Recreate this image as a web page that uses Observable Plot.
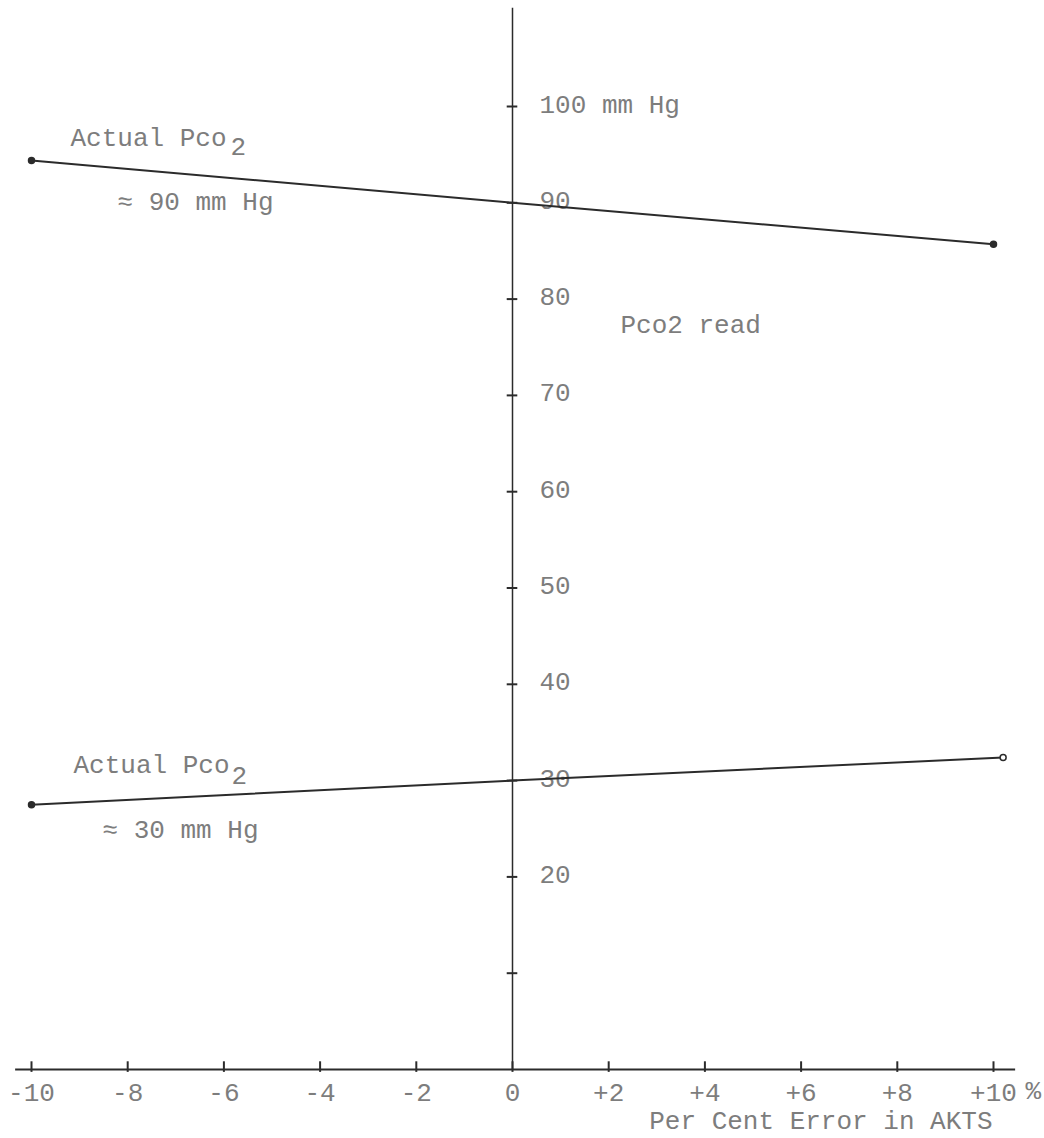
<!DOCTYPE html>
<html>
<head>
<meta charset="utf-8">
<script src="https://cdn.jsdelivr.net/npm/d3@7"></script>
<script src="https://cdn.jsdelivr.net/npm/@observablehq/plot@0.6"></script>
<style>
  html, body { margin: 0; padding: 0; background: #ffffff; }
  #chart svg { display: block; }
</style>
</head>
<body>
<div id="chart"></div>
<script>
// ---- data ----
const xTicks = [-10, -8, -6, -4, -2, 0, 2, 4, 6, 8, 10];
const xTickLabels = ["-10", "-8", "-6", "-4", "-2", "0", "+2", "+4", "+6", "+8", "+10"];
const yTicks = [10, 20, 30, 40, 50, 60, 70, 80, 90, 100];
const yTickLabels = ["", "20", "30", "40", "50", "60", "70", "80", "90", "100 mm Hg"];

const errX90 = [-10, 0, 10];
const read90 = [94.4, 90, 85.7];
const errX30 = [-10, 0, 10.2];
const read30 = [27.5, 30, 32.4];

const seriesNames = ["90", "30"];
const seriesTexts = ["≈ 90 mm Hg", "≈ 30 mm Hg"];

const xAxisLabel = "Per Cent Error in AKTS";
const yAxisLabel = "Pco2 read";
const unitLabel = "%";

// ---- tables built from the arrays ----
const series90 = errX90.map((x, i) => ({series: seriesNames[0], x, y: read90[i]}));
const series30 = errX30.map((x, i) => ({series: seriesNames[1], x, y: read30[i]}));
const allPts = series90.concat(series30);
const solidEnds = [series90[0], series90[2], series30[0]];
const openEnds = [series30[2]];

const textColor = "#7d7d7d";
const inkColor = "#2b2b2b";
const fs = 26;
const font = "Liberation Mono, DejaVu Sans Mono, monospace";

const chart = Plot.plot({
  width: 1044,
  height: 1138,
  marginLeft: 31,
  marginRight: 51,
  marginTop: 106,
  marginBottom: 69,
  x: {domain: [-10, 10], axis: null},
  y: {domain: [0, 100], axis: null},
  style: {fontFamily: font, background: "#ffffff"},
  marks: [
    // axes lines
    Plot.ruleX([0], {y1: 0, y2: 110.2, stroke: inkColor, strokeWidth: 1.5}),
    Plot.ruleY([0], {x1: -10.33, x2: 10.46, stroke: inkColor, strokeWidth: 1.8}),
    // y ticks
    Plot.ruleY(yTicks, {x1: -0.11, x2: 0.11, stroke: inkColor, strokeWidth: 2}),
    Plot.text(yTicks, {x: 0, y: d => d, text: (d, i) => yTickLabels[i], textAnchor: "start", lineAnchor: "bottom", dx: 27, dy: 6, fill: textColor, fontSize: fs, fontFamily: font}),
    // x ticks
    Plot.ruleX(xTicks, {y1: -0.3, y2: 0.8, stroke: inkColor, strokeWidth: 2}),
    Plot.text(xTicks, {x: d => d, y: 0, text: (d, i) => xTickLabels[i], lineAnchor: "bottom", dy: 31, fill: textColor, fontSize: fs, fontFamily: font}),
    Plot.text([unitLabel], {x: 10, y: 0, text: d => d, textAnchor: "start", lineAnchor: "bottom", dx: 32, dy: 29, fill: textColor, fontSize: fs, fontFamily: font}),
    Plot.text([xAxisLabel], {x: 10, y: 0, text: d => d, textAnchor: "end", lineAnchor: "bottom", dx: -1, dy: 59, fill: textColor, fontSize: fs, fontFamily: font}),
    Plot.text([yAxisLabel], {x: 0, y: 80, text: d => d, textAnchor: "start", lineAnchor: "bottom", dx: 108, dy: 34, fill: textColor, fontSize: fs, fontFamily: font}),
    // series lines
    Plot.line(allPts, {x: "x", y: "y", z: "series", stroke: inkColor, strokeWidth: 2}),
    Plot.dot(solidEnds, {x: "x", y: "y", r: 3, fill: inkColor, stroke: inkColor}),
    Plot.dot(openEnds, {x: "x", y: "y", r: 3, fill: "#ffffff", stroke: inkColor, strokeWidth: 1.5}),
    // series labels anchored on the first point of each series
    Plot.text([series90[0]], {x: "x", y: "y", text: () => "Actual Pco", textAnchor: "start", lineAnchor: "bottom", dx: 39, dy: -14, fill: textColor, fontSize: fs, fontFamily: font}),
    Plot.text([series90[0]], {x: "x", y: "y", text: () => "2", textAnchor: "start", lineAnchor: "bottom", dx: 199, dy: -5, fill: textColor, fontSize: fs, fontFamily: font}),
    Plot.text([series90[0]], {x: "x", y: "y", text: () => seriesTexts[0], textAnchor: "start", lineAnchor: "bottom", dx: 86, dy: 50, fill: textColor, fontSize: fs, fontFamily: font}),
    Plot.text([series30[0]], {x: "x", y: "y", text: () => "Actual Pco", textAnchor: "start", lineAnchor: "bottom", dx: 42, dy: -32, fill: textColor, fontSize: fs, fontFamily: font}),
    Plot.text([series30[0]], {x: "x", y: "y", text: () => "2", textAnchor: "start", lineAnchor: "bottom", dx: 200, dy: -21, fill: textColor, fontSize: fs, fontFamily: font}),
    Plot.text([series30[0]], {x: "x", y: "y", text: () => seriesTexts[1], textAnchor: "start", lineAnchor: "bottom", dx: 71, dy: 33, fill: textColor, fontSize: fs, fontFamily: font})
  ]
});
document.getElementById("chart").appendChild(chart);
</script>
</body>
</html>
